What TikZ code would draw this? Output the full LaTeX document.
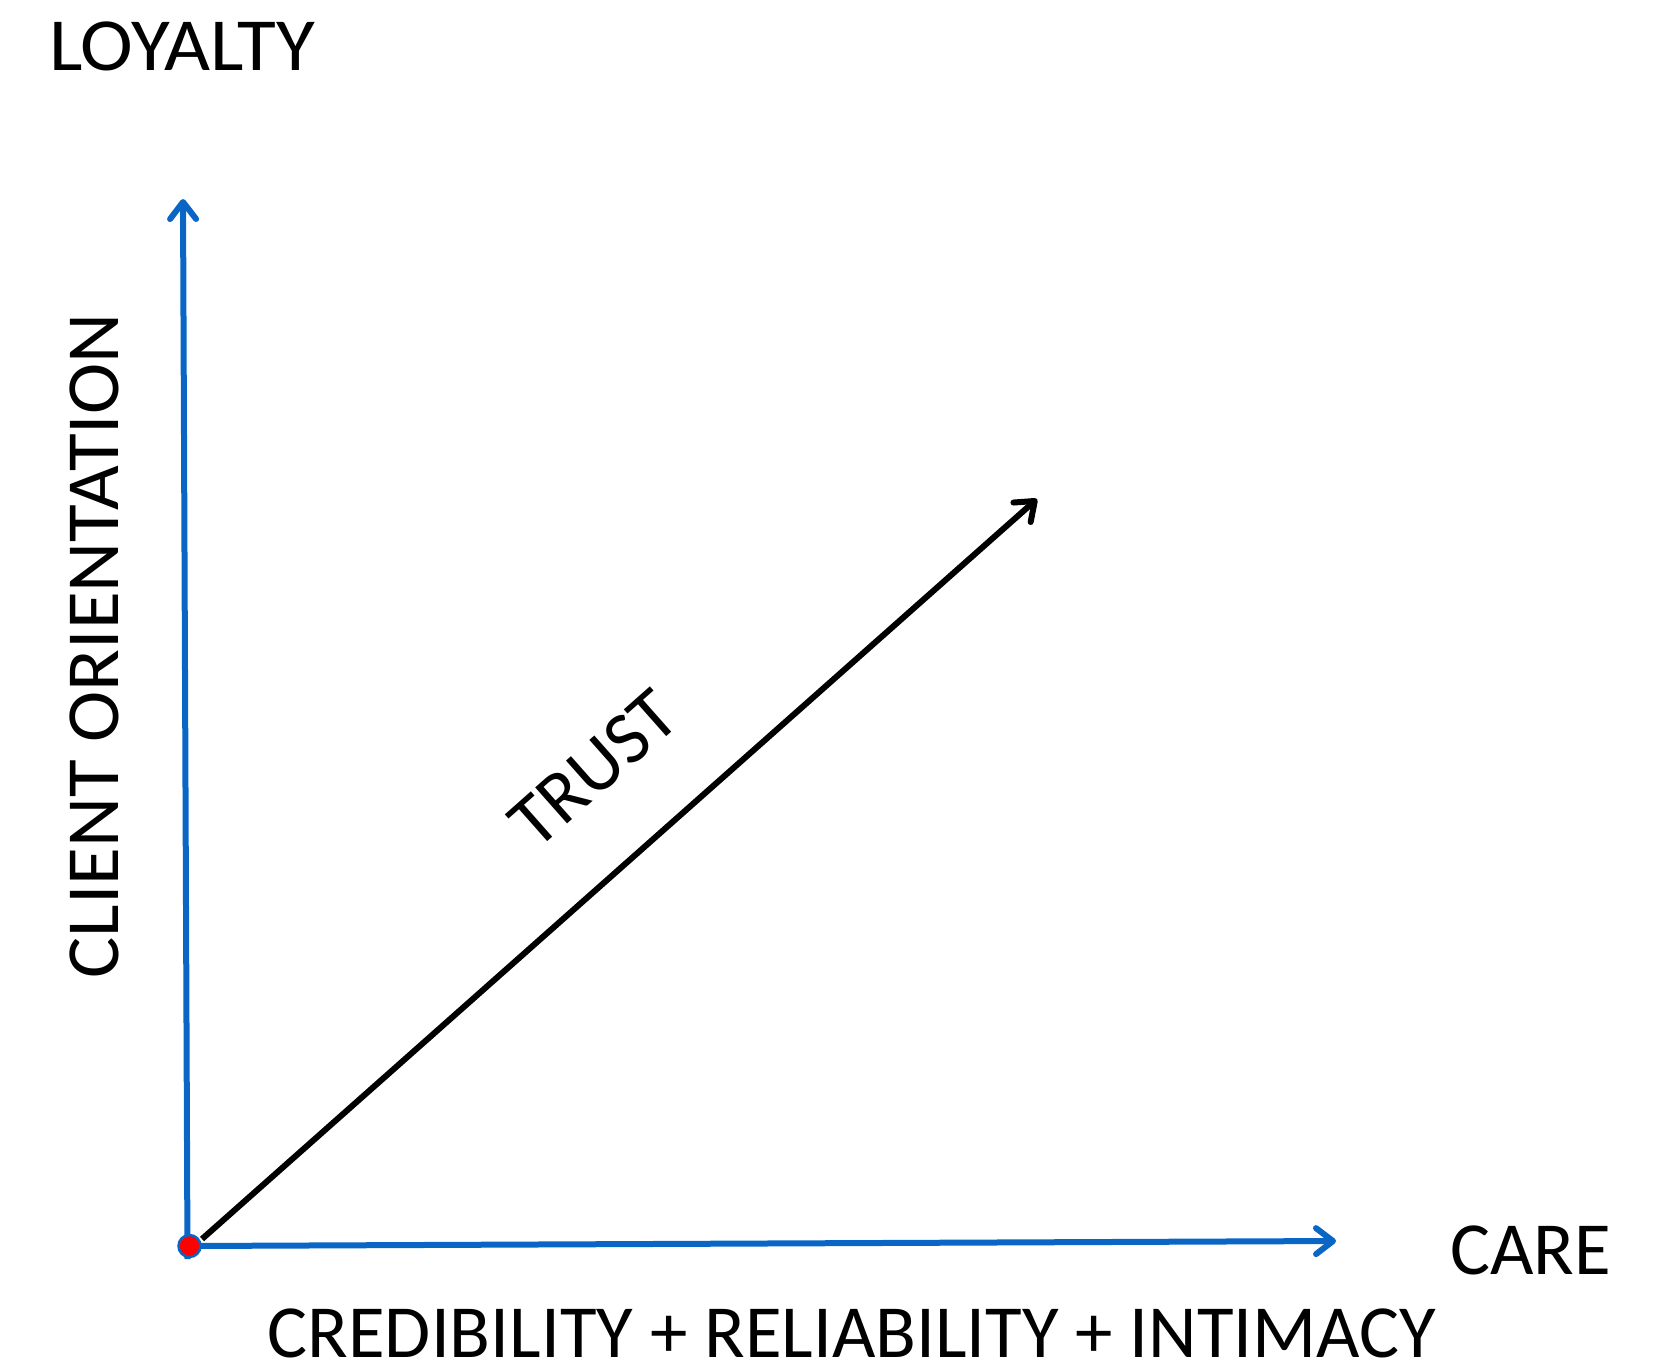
\documentclass[tikz,border=0pt]{standalone}
\usepackage{fontspec}
\setmainfont{Carlito}
\usetikzlibrary{arrows.meta}
\definecolor{axisblue}{RGB}{10,102,196}
\definecolor{dotred}{RGB}{255,0,0}
\begin{document}
\begin{tikzpicture}[x=1pt,y=-1pt,
  tip/.style={-{Straight Barb[length=17pt,width=26pt,line width=6pt,round]}},
  axis/.style={draw=axisblue,line width=6pt,tip},
  trustline/.style={draw=black,line width=6pt,tip},
  lbl/.style={inner sep=0pt,font=\fontsize{75}{82}\selectfont}]
\useasboundingbox (0,0) rectangle (1670,1369);
% axes and the trust arrow
\coordinate (o) at (189.5,1246);
\coordinate (ytop) at (183,199);
\coordinate (ybot) at (187.5,1259);
\coordinate (xend) at (1336,1241);
\coordinate (ts) at (202,1239);
\coordinate (te) at (1037,499);
\draw[axis] (ybot) -- (ytop);
\draw[axis] (o) -- (xend);
\draw[trustline] (ts) -- (te);
\node[circle,fill=dotred,draw=axisblue,line width=2.5pt,minimum size=22pt,inner sep=0pt] (dot) at (o) {};
% labels
\node[lbl,anchor=base west,xscale=1.06] (loy) at (49,70) {LOYALTY};
\node[lbl,rotate=90,xscale=1.03] (co) at (94,646) {CLIENT ORIENTATION};
\node[lbl,rotate=41.5] (tr) at (594,769) {TRUST};
\node[lbl,anchor=base west] (care) at (1450,1274) {CARE};
\node[lbl,anchor=base] (crit) at (852,1357) {CREDIBILITY + RELIABILITY + INTIMACY};
\end{tikzpicture}
\end{document}
